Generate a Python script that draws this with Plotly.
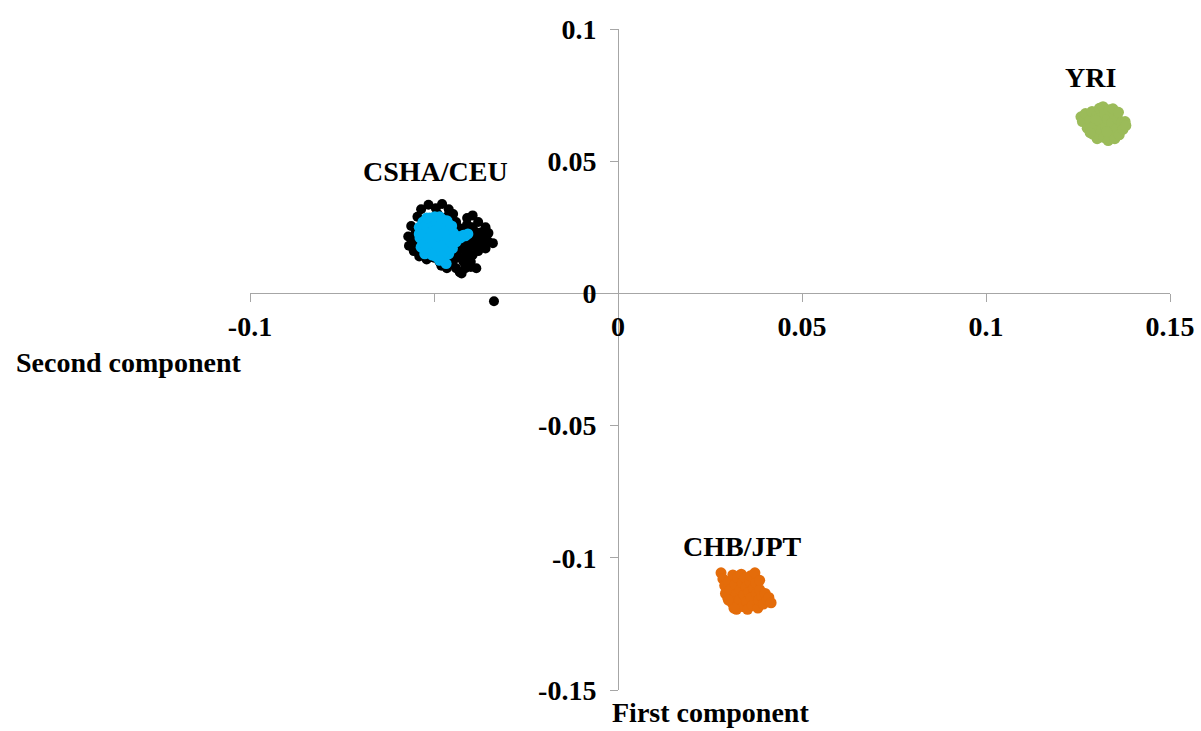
import plotly.graph_objects as go

# CSHA (black) points
csha_x = [-0.0535, -0.0515, -0.0495, -0.0478, -0.0460, -0.0545, -0.0448,
          -0.0562, -0.0570, -0.0568, -0.0555, -0.0550,
          -0.0540, -0.0520, -0.0500, -0.0485,
          -0.0440, -0.0410, -0.0395, -0.0380, -0.0360, -0.0352, -0.0372, -0.0395, -0.0420,
          -0.0340, -0.0355, -0.0370, -0.0385, -0.0400, -0.0420,
          -0.0380, -0.0395, -0.0410, -0.0425, -0.0440, -0.0455, -0.0470, -0.0430, -0.0400,
          -0.0385, -0.0415, -0.0430, -0.0450, -0.0465, -0.0480, -0.0425,
          -0.0460, -0.0445, -0.0430, -0.0450, -0.0470, -0.0480, -0.0510, -0.0500, -0.0525,
          -0.0530, -0.0490, -0.0465, -0.0455, -0.0435, -0.0410, -0.0385, -0.0365, -0.0405,
          -0.0415, -0.0395, -0.0440, -0.0460, -0.0445, -0.0415, -0.0400, -0.0440, -0.0470,
          -0.0505, -0.0545, -0.0555, -0.0530, -0.0490, -0.0420, -0.0375, -0.0360,
          -0.0337]
csha_y = [0.0318, 0.0335, 0.0322, 0.0338, 0.0318, 0.0290, 0.0300,
          0.0255, 0.0215, 0.0180, 0.0160, 0.0230,
          0.0140, 0.0128, 0.0135, 0.0120,
          0.0270, 0.0285, 0.0295, 0.0270, 0.0250, 0.0228, 0.0230, 0.0250, 0.0245,
          0.0190, 0.0200, 0.0185, 0.0205, 0.0215, 0.0210,
          0.0160, 0.0145, 0.0160, 0.0170, 0.0155, 0.0140, 0.0150, 0.0135, 0.0120,
          0.0095, 0.0095, 0.0080, 0.0110, 0.0095, 0.0105, 0.0075,
          0.0200, 0.0225, 0.0195, 0.0180, 0.0250, 0.0170, 0.0200, 0.0260, 0.0230,
          0.0275, 0.0300, 0.0290, 0.0265, 0.0250, 0.0260, 0.0230, 0.0210, 0.0195,
          0.0180, 0.0180, 0.0195, 0.0170, 0.0130, 0.0140, 0.0100, 0.0095, 0.0120,
          0.0150, 0.0190, 0.0205, 0.0160, 0.0140, 0.0120, 0.0175, 0.0170,
          -0.0030]

# CEU (blue) points
ceu_x = [-0.0540, -0.0538, -0.0535, -0.0530, -0.0525, -0.0520, -0.0515, -0.0512, -0.0508,
         -0.0505, -0.0500, -0.0498, -0.0495, -0.0492, -0.0490, -0.0485, -0.0482, -0.0480,
         -0.0478, -0.0475, -0.0472, -0.0470, -0.0465, -0.0462, -0.0460, -0.0458, -0.0455,
         -0.0452, -0.0450, -0.0448, -0.0525, -0.0510, -0.0488, -0.0470, -0.0500, -0.0518,
         -0.0535, -0.0530, -0.0528, -0.0522, -0.0515, -0.0512, -0.0505, -0.0502, -0.0495,
         -0.0493, -0.0485, -0.0480, -0.0478, -0.0472, -0.0468, -0.0462, -0.0458, -0.0455,
         -0.0450, -0.0448, -0.0445, -0.0540, -0.0520, -0.0505, -0.0485, -0.0465,
         -0.0435, -0.0428, -0.0420, -0.0415, -0.0408, -0.0440, -0.0467, -0.0485]
ceu_y = [0.0250, 0.0210, 0.0175, 0.0270, 0.0150, 0.0230, 0.0195, 0.0285, 0.0160,
         0.0250, 0.0215, 0.0290, 0.0140, 0.0180, 0.0265, 0.0235, 0.0200, 0.0160,
         0.0280, 0.0130, 0.0245, 0.0215, 0.0185, 0.0265, 0.0150, 0.0230, 0.0200,
         0.0255, 0.0170, 0.0215, 0.0200, 0.0225, 0.0245, 0.0190, 0.0175, 0.0260,
         0.0230, 0.0190, 0.0250, 0.0170, 0.0270, 0.0210, 0.0185, 0.0235, 0.0275,
         0.0160, 0.0215, 0.0260, 0.0180, 0.0145, 0.0230, 0.0205, 0.0170, 0.0245,
         0.0190, 0.0230, 0.0210, 0.0225, 0.0285, 0.0145, 0.0290, 0.0275,
         0.0215, 0.0210, 0.0220, 0.0218, 0.0225, 0.0195, 0.0113, 0.0125]

# YRI (green) points
yri_x = [0.1258, 0.1262, 0.1270, 0.1275, 0.1282, 0.1288, 0.1290, 0.1295, 0.1300, 0.1302,
         0.1308, 0.1310, 0.1312, 0.1318, 0.1320, 0.1322, 0.1325, 0.1330, 0.1332, 0.1335,
         0.1340, 0.1342, 0.1348, 0.1350, 0.1355, 0.1358, 0.1362, 0.1368, 0.1372, 0.1378,
         0.1380, 0.1345, 0.1298, 0.1285, 0.1328, 0.1360, 0.1283]
yri_y = [0.0668, 0.0650, 0.0680, 0.0625, 0.0655, 0.0688, 0.0602, 0.0635, 0.0670, 0.0585,
         0.0700, 0.0620, 0.0650, 0.0706, 0.0590, 0.0680, 0.0630, 0.0660, 0.0578, 0.0695,
         0.0610, 0.0645, 0.0680, 0.0585, 0.0625, 0.0660, 0.0600, 0.0645, 0.0620, 0.0650,
         0.0635, 0.0698, 0.0655, 0.0625, 0.0612, 0.0685, 0.0608]

# CHB/JPT (orange) points
chb_x = [0.0280, 0.0285, 0.0290, 0.0292, 0.0298, 0.0300, 0.0305, 0.0310, 0.0312, 0.0318,
         0.0320, 0.0322, 0.0325, 0.0330, 0.0332, 0.0335, 0.0338, 0.0340, 0.0342, 0.0345,
         0.0348, 0.0350, 0.0352, 0.0355, 0.0358, 0.0360, 0.0362, 0.0365, 0.0368, 0.0372,
         0.0374, 0.0376, 0.0380, 0.0382, 0.0385, 0.0390, 0.0395, 0.0400, 0.0405, 0.0410,
         0.0416, 0.0385, 0.0315, 0.0300]
chb_y = [-0.1057, -0.1080, -0.1105, -0.1135, -0.1150, -0.1090, -0.1120, -0.1170, -0.1065, -0.1100,
         -0.1140, -0.1195, -0.1075, -0.1160, -0.1120, -0.1062, -0.1095, -0.1185, -0.1140, -0.1075,
         -0.1110, -0.1165, -0.1195, -0.1130, -0.1090, -0.1068, -0.1150, -0.1180, -0.1115, -0.1057,
         -0.1095, -0.1135, -0.1190, -0.1160, -0.1120, -0.1145, -0.1175, -0.1135, -0.1160, -0.1150,
         -0.1170, -0.1085, -0.1190, -0.1160]

x_ticks = [-0.1, -0.05, 0, 0.05, 0.1, 0.15]
x_tick_labels = ["-0.1", "", "0", "0.05", "0.1", "0.15"]
y_ticks = [-0.15, -0.1, -0.05, 0, 0.05, 0.1]
y_tick_labels = ["-0.15", "-0.1", "-0.05", "0", "0.05", "0.1"]

FONT = "Liberation Serif, Times New Roman, serif"
AXC = "#A6A6A6"

fig = go.Figure()
fig.add_trace(go.Scatter(x=csha_x, y=csha_y, mode="markers", name="CSHA",
                         marker=dict(color="#000000", size=10, line=dict(width=0))))
fig.add_trace(go.Scatter(x=ceu_x, y=ceu_y, mode="markers", name="CEU",
                         marker=dict(color="#00B0F0", size=11, line=dict(width=0))))
fig.add_trace(go.Scatter(x=yri_x, y=yri_y, mode="markers", name="YRI",
                         marker=dict(color="#9BBB59", size=11, line=dict(width=0))))
fig.add_trace(go.Scatter(x=chb_x, y=chb_y, mode="markers", name="CHB/JPT",
                         marker=dict(color="#E46C0A", size=11, line=dict(width=0))))

tickfont = dict(family=FONT, size=28, color="#000000", weight="bold")

fig.update_layout(
    width=1201, height=731,
    margin=dict(l=250, r=31, t=29, b=41),
    paper_bgcolor="white", plot_bgcolor="white",
    showlegend=False,
    xaxis=dict(range=[-0.1, 0.15], anchor="free", position=0.6, automargin=False,
               showline=True, linecolor=AXC, linewidth=1,
               ticks="outside", ticklen=8, tickcolor=AXC, tickwidth=1,
               tickvals=x_ticks, ticktext=x_tick_labels, tickfont=tickfont,
               showgrid=False, zeroline=False, ticklabelstandoff=0),
    yaxis=dict(range=[-0.15, 0.1], anchor="free", position=0.4, automargin=False,
               showline=True, linecolor=AXC, linewidth=1,
               ticks="outside", ticklen=8, tickcolor=AXC, tickwidth=1,
               tickvals=y_ticks, ticktext=y_tick_labels, tickfont=tickfont,
               showgrid=False, zeroline=False, ticklabelstandoff=8),
)

labfont = dict(family=FONT, size=28, color="#000000", weight="bold")
fig.add_annotation(x=0.1283, y=0.0815, text="YRI", showarrow=False, font=labfont)
fig.add_annotation(x=-0.0497, y=0.0460, text="CSHA/CEU", showarrow=False, font=labfont)
fig.add_annotation(x=0.0337, y=-0.0958, text="CHB/JPT", showarrow=False, font=labfont)
fig.add_annotation(xref="paper", yref="paper", x=-0.2565, y=0.496, xanchor="left",
                   yanchor="middle", text="Second component", showarrow=False, font=labfont)
fig.add_annotation(xref="paper", yref="paper", x=0.391, y=-0.0333, xanchor="left",
                   yanchor="middle", text="First component", showarrow=False, font=labfont)

fig.write_html("out.html")
